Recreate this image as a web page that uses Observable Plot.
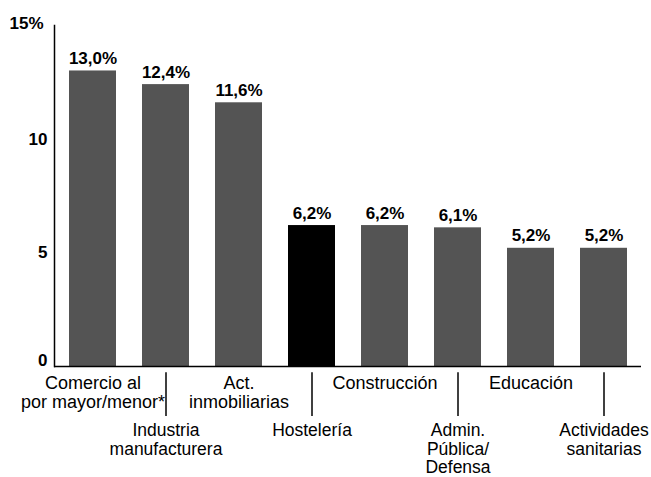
<!DOCTYPE html>
<html>
<head>
<meta charset="utf-8">
<script src="https://cdn.jsdelivr.net/npm/d3@7"></script>
<script src="https://cdn.jsdelivr.net/npm/@observablehq/plot@0.6"></script>
<style>
  html, body { margin: 0; padding: 0; background: #fff; }
  #chart svg { display: block; }
</style>
</head>
<body>
<div id="chart"></div>
<script>
// Sector names (line breaks as in the original)
const categories = [
  "Comercio al\npor mayor/menor*",
  "Industria\nmanufacturera",
  "Act.\ninmobiliarias",
  "Hostelería",
  "Construcción",
  "Admin.\nPública/\nDefensa",
  "Educación",
  "Actividades\nsanitarias"
];
// Share (%) per sector
const values = [13.0, 12.4, 11.6, 6.2, 6.2, 6.1, 5.2, 5.2];
// Label text above bars
const valueLabels = ["13,0%", "12,4%", "11,6%", "6,2%", "6,2%", "6,1%", "5,2%", "5,2%"];
// Highlighted sector
const highlighted = ["Hostelería"];
// Y-axis ticks and their labels
const yTicks = [0, 5, 10, 15];
const yTickLabels = ["0", "5", "10", "15%"];

const data = categories.map((c, i) => ({
  cat: c,
  value: values[i],
  label: valueLabels[i],
  row: i % 2,
  hi: highlighted.includes(c)
}));

const font = "Liberation Sans, Arial, Helvetica, sans-serif";

const chart = Plot.plot({
  width: 651,
  height: 477,
  marginTop: 25,
  marginBottom: 111,
  marginLeft: 54,
  marginRight: 10,
  style: { fontFamily: font, background: "#fff", color: "#000", overflow: "visible" },
  x: { domain: categories, paddingInner: 0.36, paddingOuter: 0.18, axis: null },
  y: { domain: [0, 15], axis: null },
  marks: [
    Plot.barY(data, {
      x: "cat", y: "value",
      fill: d => d.hi ? "#000" : "#545454"
    }),
    Plot.text(data, {
      x: "cat", y: "value", text: "label",
      lineAnchor: "bottom", dy: -7,
      fontSize: 17, fontWeight: "bold", fill: "#000"
    }),
    // y tick labels (the 0 sits slightly above the baseline, 15% slightly higher)
    Plot.text(yTicks.filter(t => t !== 0 && t !== 15), {
      y: d => d, text: d => yTickLabels[yTicks.indexOf(d)],
      frameAnchor: "left", textAnchor: "end", dx: -7,
      fontSize: 17, fontWeight: "bold", fill: "#000"
    }),
    Plot.text([0], {
      y: d => d, text: d => yTickLabels[yTicks.indexOf(d)],
      frameAnchor: "left", textAnchor: "end", dx: -7, dy: -6,
      fontSize: 17, fontWeight: "bold", fill: "#000"
    }),
    Plot.text([15], {
      y: d => d, text: d => yTickLabels[yTicks.indexOf(d)],
      frameAnchor: "left", textAnchor: "end", dx: -11, dy: -2,
      fontSize: 17, fontWeight: "bold", fill: "#000"
    }),
    // axis lines
    Plot.frame({ anchor: "left", stroke: "#000", strokeWidth: 1.5 }),
    Plot.ruleY([0], { stroke: "#000", strokeWidth: 1.5 }),
    // connectors for lower-row labels
    Plot.ruleX(data.filter(d => d.row === 1), {
      x: "cat", y1: -0.27, y2: -2.2, stroke: "#000", strokeWidth: 1.5
    }),
    // category labels, upper row
    Plot.text(data.filter(d => d.row === 0), {
      x: "cat", text: "cat",
      frameAnchor: "bottom", lineAnchor: "top", dy: 8,
      fontSize: 18, lineHeight: 1.1, fill: "#000"
    }),
    // category labels, lower row
    Plot.text(data.filter(d => d.row === 1), {
      x: "cat", text: "cat",
      frameAnchor: "bottom", lineAnchor: "top", dy: 57,
      fontSize: 17.5, lineHeight: 1.04, fill: "#000"
    })
  ]
});

document.getElementById("chart").appendChild(chart);
</script>
</body>
</html>
